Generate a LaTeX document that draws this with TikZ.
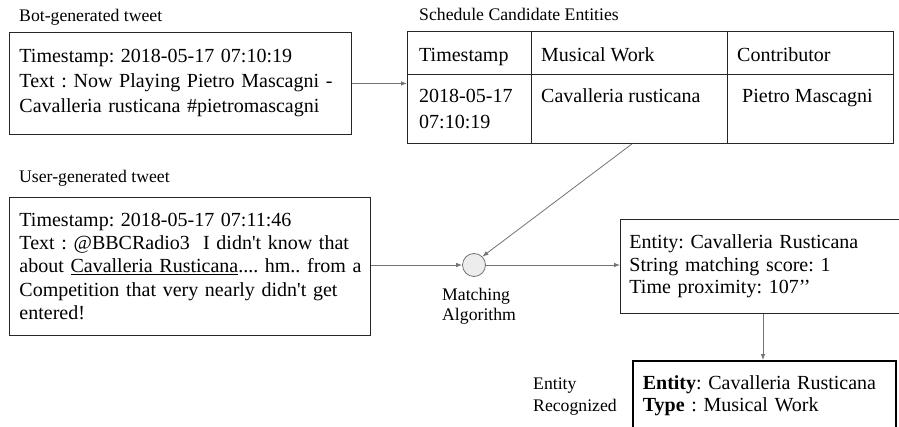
\documentclass[tikz,border=0pt]{standalone}
\usepackage{fontspec}
\setmainfont{Liberation Serif}
\usetikzlibrary{arrows.meta}

\tikzset{
	tweetbox/.style={draw=black!85, line width=0.9pt, anchor=north west, align=left, inner xsep=10pt, inner ysep=8pt, font=\fontsize{20}{24}\selectfont},
	caption/.style={anchor=base west, inner sep=0pt, align=left, font=\fontsize{17.7}{20}\selectfont},
	cell/.style={anchor=base west, inner sep=0pt, align=left, font=\fontsize{20}{25.5}\selectfont},
	flow/.style={draw=black!55, line width=0.8pt, -{Latex[length=6pt,width=4.5pt]}}
}

\begin{document}
\frenchspacing
\begin{tikzpicture}[x=1pt,y=-1pt]
	\useasboundingbox (0,0) rectangle (899,427);

	\node[caption] (botlbl) at (19,21.5) {Bot-generated tweet};
	\node[caption] (schedlbl) at (419,20.5) {Schedule Candidate Entities};
	\node[caption] (userlbl) at (19,182.5) {User-generated tweet};

	\node[tweetbox, text width=322pt, minimum height=102pt, font=\fontsize{20}{25}\selectfont] (bot) at (9,32) {Timestamp: 2018-05-17 07:10:19\\Text : Now Playing Pietro Mascagni -\\Cavalleria rusticana \#pietromascagni};

	\node[tweetbox, text width=341pt, minimum height=138pt, font=\fontsize{20}{23.2}\selectfont] (user) at (9,197) {Timestamp: 2018-05-17 07:11:46\\\mbox{Text : @BBCRadio3\ \ I didn\textquotesingle t know that}\\\mbox{about \underline{Cavalleria Rusticana}.... hm.. from a}\\\mbox{Competition that very nearly didn\textquotesingle t get}\\entered!};

	% schedule table
	\node[draw=black!85, line width=0.9pt, anchor=north west, minimum width=486pt, minimum height=112pt, inner sep=0pt] (sched) at (407,31) {};
	\draw[black!85, line width=0.9pt] (407,74) -- (893,74);
	\draw[black!85, line width=0.9pt] (531,31) -- (531,143);
	\draw[black!85, line width=0.9pt] (727,31) -- (727,143);
	\node[cell] (hstamp) at (419,61.6) {Timestamp};
	\node[cell] (hwork) at (541,61.6) {Musical Work};
	\node[cell] (hcontrib) at (737,61.6) {Contributor};
	\node[cell] (cstamp) at (419,128.5) {2018-05-17\\07:10:19};
	\node[cell] (cwork) at (541,103) {Cavalleria rusticana};
	\node[cell] (ccontrib) at (742,103) {Pietro Mascagni};

	\node[circle, draw=black!55, fill=black!7, line width=0.8pt, minimum size=23pt, inner sep=0pt] (match) at (474,265) {};
	\node[caption] (matchlbl) at (442,321) {Matching\\Algorithm};

	\node[tweetbox, text width=300pt, minimum height=94pt, inner xsep=9pt, font=\fontsize{20}{22.4}\selectfont] (cand) at (620,219) {Entity: Cavalleria Rusticana\\String matching score: 1\\Time proximity: 107’’};

	\node[tweetbox, draw=black, line width=1.6pt, text width=243pt, text height=21pt, text depth=60pt, font=\fontsize{20}{22}\selectfont] (final) at (632,360) {\textbf{Entity}: Cavalleria Rusticana\\\textbf{Type} : Musical Work};
	\node[caption, font=\fontsize{17.7}{22}\selectfont] (finallbl) at (533,411) {Entity\\Recognized};

	\draw[flow] (bot.east) -- (sched.west |- bot.east);
	\draw[flow] (sched.south -| 632,0) -- (match.north east);
	\draw[flow] (user.east |- match.west) -- (match.west);
	\draw[flow] (match.east) -- (cand.west |- match.east);
	\draw[flow] (cand.south -| 763,0) -- (final.north -| 763,0);
\end{tikzpicture}
\end{document}
